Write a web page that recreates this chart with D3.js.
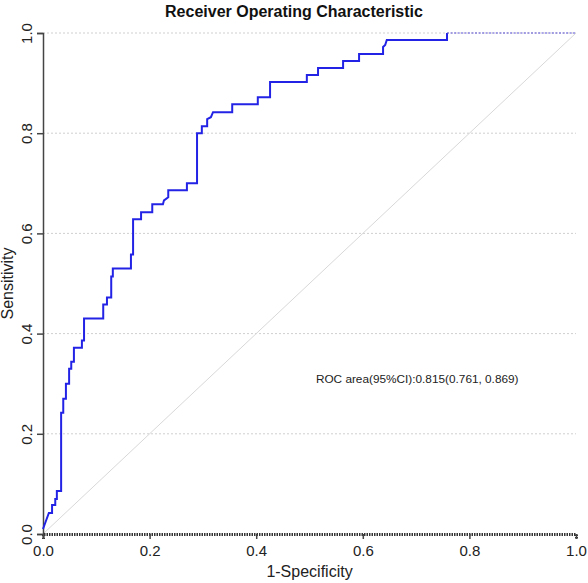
<!DOCTYPE html>
<html>
<head>
<meta charset="utf-8">
<script src="https://cdn.jsdelivr.net/npm/d3@7"></script>
<style>
  body { margin: 0; background: #fff; }
  svg text { font-family: "Liberation Sans", Arial, sans-serif; }
</style>
</head>
<body>
<div id="chart"></div>
<script>
// ROC curve vertices (1-specificity, sensitivity)
const fpr = [0, 0.011, 0.017, 0.017, 0.023, 0.023, 0.026, 0.026, 0.034, 0.034,
  0.038, 0.038, 0.043, 0.043, 0.049, 0.049, 0.053, 0.053, 0.058, 0.058,
  0.073, 0.073, 0.077, 0.077, 0.113, 0.113, 0.120, 0.120, 0.128, 0.128,
  0.131, 0.131, 0.165, 0.165, 0.169, 0.169, 0.184, 0.184, 0.205, 0.205,
  0.225, 0.227, 0.235, 0.235, 0.270, 0.270, 0.289, 0.289, 0.298, 0.298,
  0.308, 0.308, 0.315, 0.319, 0.355, 0.355, 0.403, 0.403, 0.426, 0.426,
  0.495, 0.495, 0.516, 0.516, 0.563, 0.563, 0.593, 0.593, 0.638, 0.638,
  0.642, 0.645, 0.758, 0.758];
const tpr = [0.010, 0.042, 0.042, 0.058, 0.058, 0.070, 0.070, 0.086, 0.086, 0.242,
  0.242, 0.270, 0.270, 0.300, 0.300, 0.330, 0.330, 0.344, 0.344, 0.372,
  0.372, 0.386, 0.386, 0.430, 0.430, 0.458, 0.458, 0.472, 0.472, 0.514,
  0.514, 0.530, 0.530, 0.558, 0.558, 0.628, 0.628, 0.642, 0.642, 0.658,
  0.658, 0.666, 0.672, 0.686, 0.686, 0.700, 0.700, 0.800, 0.800, 0.814,
  0.814, 0.828, 0.832, 0.842, 0.842, 0.858, 0.858, 0.872, 0.872, 0.902,
  0.902, 0.916, 0.916, 0.930, 0.930, 0.944, 0.944, 0.958, 0.958, 0.972,
  0.976, 0.986, 0.986, 1.0];
// last flat stretch at sensitivity 1 (drawn dashed)
const tailFpr = [0.758, 1.0];
const tailTpr = [1.0, 1.0];

const ticks = [0, 0.2, 0.4, 0.6, 0.8, 1.0];
const tickLabels = ["0.0", "0.2", "0.4", "0.6", "0.8", "1.0"];
const titleText = "Receiver Operating Characteristic";
const aucText = "ROC area(95%CI):0.815(0.761, 0.869)";

const width = 588, height = 583;
const margin = { top: 33, right: 12, bottom: 49, left: 43 };

const svg = d3.select("#chart").append("svg")
  .attr("width", width)
  .attr("height", height);

const x = d3.scaleLinear().domain([0, 1]).range([margin.left, width - margin.right]);
const y = d3.scaleLinear().domain([0, 1]).range([height - margin.bottom, margin.top]);

// horizontal dotted grid
svg.append("g")
  .selectAll("line")
  .data(ticks.slice(1))
  .join("line")
  .attr("x1", x(0)).attr("x2", x(1))
  .attr("y1", d => y(d)).attr("y2", d => y(d))
  .attr("stroke", "#cfcfcf")
  .attr("stroke-width", 1)
  .attr("stroke-dasharray", "2,2");

// reference diagonal
svg.append("line")
  .attr("x1", x(0)).attr("y1", y(0))
  .attr("x2", x(1)).attr("y2", y(1))
  .attr("stroke", "#d8d8d8")
  .attr("stroke-width", 1);

// y axis
const yAxis = d3.axisLeft(y).tickValues(ticks).tickFormat((d, i) => tickLabels[i]).tickSize(6);
const gy = svg.append("g")
  .attr("transform", `translate(${x(0)},0)`)
  .call(yAxis);
gy.select(".domain").attr("stroke", "#444").attr("stroke-width", 1.5);
gy.selectAll(".tick line").attr("stroke", "#444").attr("stroke-width", 1.5);
gy.selectAll(".tick text")
  .attr("font-size", 15)
  .attr("fill", "#222")
  .attr("text-anchor", "middle")
  .attr("x", 0)
  .attr("dy", 0)
  .attr("transform", "translate(-11,0) rotate(-90)");

// x axis
const xAxis = d3.axisBottom(x).tickValues(ticks).tickFormat((d, i) => tickLabels[i]).tickSize(5);
const gx = svg.append("g")
  .attr("transform", `translate(0,${y(0)})`)
  .call(xAxis);
gx.select(".domain")
  .attr("stroke", "#333")
  .attr("stroke-width", 3)
  .attr("stroke-dasharray", "1.5,1");
gx.selectAll(".tick line").attr("stroke", "#444").attr("stroke-width", 1.5);
gx.selectAll(".tick text")
  .attr("font-size", 15)
  .attr("fill", "#222")
  .attr("dy", "0.9em");

// ROC curve
const pts = fpr.map((f, i) => [f, tpr[i]]);
const line = d3.line().x(d => x(d[0])).y(d => y(d[1]));
svg.append("path")
  .datum(pts)
  .attr("d", line)
  .attr("fill", "none")
  .attr("stroke", "#2323e6")
  .attr("stroke-width", 2);

svg.append("path")
  .datum(tailFpr.map((f, i) => [f, tailTpr[i]]))
  .attr("d", line)
  .attr("fill", "none")
  .attr("stroke", "#5a4fd8")
  .attr("stroke-width", 1.2)
  .attr("stroke-dasharray", "2,1.5");

// AUC annotation
svg.append("text")
  .attr("x", x(0.512))
  .attr("y", y(0.302))
  .attr("font-size", 11.8)
  .attr("fill", "#222")
  .text(aucText);

// title
svg.append("text")
  .attr("x", width / 2)
  .attr("y", 17)
  .attr("text-anchor", "middle")
  .attr("font-size", 16)
  .attr("font-weight", "bold")
  .attr("fill", "#111")
  .text(titleText);

// axis titles
svg.append("text")
  .attr("x", (x(0) + x(1)) / 2)
  .attr("y", 577)
  .attr("text-anchor", "middle")
  .attr("font-size", 16)
  .attr("fill", "#222")
  .text("1-Specificity");

svg.append("text")
  .attr("transform", `translate(13,${(y(0) + y(1)) / 2}) rotate(-90)`)
  .attr("text-anchor", "middle")
  .attr("font-size", 16)
  .attr("fill", "#222")
  .text("Sensitivity");
</script>
</body>
</html>
